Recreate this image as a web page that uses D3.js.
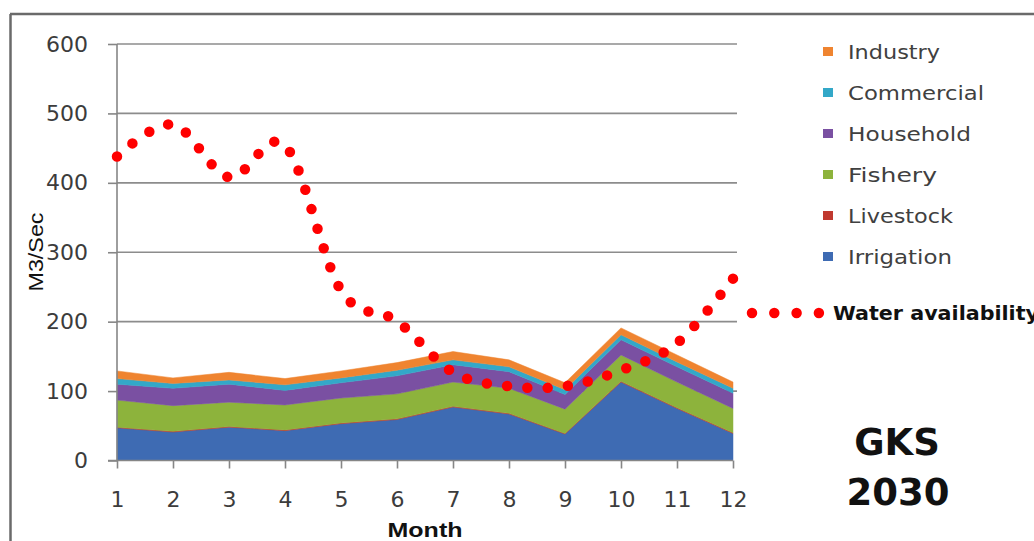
<!DOCTYPE html>
<html>
<head>
<meta charset="utf-8">
<script src="https://cdn.jsdelivr.net/npm/d3@7"></script>
<style>
  html, body { margin: 0; padding: 0; background: #fff; }
  svg { display: block; }
</style>
</head>
<body>
<svg id="chart" width="1034" height="541"></svg>
<script>
// Monthly water demand by sector (m3/sec), stacked, plus water availability
const months = [1, 2, 3, 4, 5, 6, 7, 8, 9, 10, 11, 12];
const irrigation = [47, 41, 48, 43, 53, 59, 77, 67, 38, 113, 75, 39];
const livestock  = [1, 1, 1, 1, 1, 1, 1, 1, 1, 1, 1, 1];
const fishery    = [39, 37, 35, 36, 36, 36, 35, 36, 35, 38, 37, 35];
const household  = [23, 25, 26, 21, 22, 26, 25, 24, 21, 22, 22, 22];
const commercial = [8, 7, 6, 8, 7, 8, 7, 7, 7, 7, 7, 7];
const industry   = [11, 8, 11, 9, 10, 11, 12, 10, 10, 10, 10, 9];
const waterAvailability = [438, 484, 408, 454, 245, 201, 127, 107, 107, 130, 169, 262];
const yTicks = [0, 100, 200, 300, 400, 500, 600];

const seriesNames = ["Irrigation", "Livestock", "Fishery", "Household", "Commercial", "Industry"];
const seriesValues = [irrigation, livestock, fishery, household, commercial, industry];
const colors = {
  Irrigation: "#3e6bb3",
  Livestock: "#c0392f",
  Fishery: "#8db33c",
  Household: "#7a50a2",
  Commercial: "#33a8c8",
  Industry: "#ef8430"
};

const rows = months.map((m, i) => {
  const r = { month: m };
  seriesNames.forEach((s, k) => { r[s] = seriesValues[k][i]; });
  return r;
});

const svg = d3.select("#chart");

// outer frame
svg.append("line").attr("x1", 10).attr("x2", 1034).attr("y1", 14).attr("y2", 14)
  .attr("stroke", "#6a6a6a").attr("stroke-width", 2.5);
svg.append("line").attr("x1", 10.5).attr("x2", 10.5).attr("y1", 14).attr("y2", 541)
  .attr("stroke", "#6a6a6a").attr("stroke-width", 2.5);

const x = d3.scalePoint().domain(months).range([117, 733]);
const y = d3.scaleLinear().domain([0, 600]).range([460.5, 44]);

// horizontal gridlines
svg.append("g").selectAll("line")
  .data(yTicks.filter(v => v > 0))
  .join("line")
  .attr("x1", 117).attr("x2", 737)
  .attr("y1", d => y(d)).attr("y2", d => y(d))
  .attr("stroke", "#8c8c8c").attr("stroke-width", 1.6);

// stacked areas
const stack = d3.stack().keys(seriesNames);
const layers = stack(rows);
const area = d3.area()
  .x(d => x(d.data.month))
  .y0(d => y(d[0]))
  .y1(d => y(d[1]));

svg.append("g").selectAll("path")
  .data(layers)
  .join("path")
  .attr("d", area)
  .attr("fill", d => colors[d.key])
  .attr("stroke", d => colors[d.key])
  .attr("stroke-width", 0.5);

// axes
const yAxis = svg.append("g")
  .attr("transform", "translate(117,0)")
  .call(d3.axisLeft(y).tickValues(yTicks).tickSize(9).tickPadding(20));
yAxis.select(".domain").attr("stroke", "#868686").attr("stroke-width", 1.6)
  .attr("d", `M0,${y(600)}V${y(0)}`);
yAxis.selectAll(".tick line").attr("stroke", "#868686").attr("stroke-width", 1.6);
yAxis.selectAll(".tick text")
  .attr("fill", "#3c3c3c")
  .style("font-family", "'DejaVu Sans', sans-serif")
  .style("font-size", "22px");

const xAxis = svg.append("g")
  .attr("transform", `translate(0,${y(0)})`)
  .call(d3.axisBottom(x).tickSize(8).tickPadding(23));
xAxis.select(".domain").attr("stroke", "#868686").attr("stroke-width", 1.6)
  .attr("d", `M108,0H733`);
xAxis.selectAll(".tick line").attr("stroke", "#868686").attr("stroke-width", 1.6);
xAxis.selectAll(".tick text")
  .attr("fill", "#3c3c3c")
  .style("font-family", "'DejaVu Sans', sans-serif")
  .style("font-size", "22px");

// water availability (smoothed, round dotted)
const line = d3.line()
  .x((d, i) => x(months[i]))
  .y(d => y(d))
  .curve(d3.curveCatmullRom.alpha(0));

const waterPath = svg.append("path")
  .datum(waterAvailability)
  .attr("d", line)
  .attr("fill", "none")
  .attr("stroke", "#ff0000")
  .attr("stroke-width", 10.5)
  .attr("stroke-linecap", "round");
// spread the dots evenly so one lands on each end of the line
const pathLen = waterPath.node().getTotalLength();
const nGaps = Math.round(pathLen / 20.5);
const gap = (pathLen - 0.5) / nGaps;
waterPath.attr("stroke-dasharray", `0 ${gap}`);

// axis titles
svg.append("text")
  .attr("transform", "translate(43,252) rotate(-90)")
  .attr("text-anchor", "middle")
  .attr("textLength", 79).attr("lengthAdjust", "spacingAndGlyphs")
  .style("font-family", "'Liberation Sans', Arial, sans-serif")
  .style("font-size", "20px")
  .attr("fill", "#111")
  .text("M3/Sec");

svg.append("text")
  .attr("x", 425).attr("y", 537)
  .attr("text-anchor", "middle")
  .attr("textLength", 75).attr("lengthAdjust", "spacingAndGlyphs")
  .style("font-family", "'Liberation Sans', Arial, sans-serif")
  .style("font-weight", "bold")
  .style("font-size", "20px")
  .attr("fill", "#111")
  .text("Month");

// legend for the stacked sectors (top entry first)
const legendOrder = ["Industry", "Commercial", "Household", "Fishery", "Livestock", "Irrigation"];
const legendWidths = { Industry: 92, Commercial: 136, Household: 123, Fishery: 89, Livestock: 105, Irrigation: 104 };
const legend = svg.append("g");
const lg = legend.selectAll("g")
  .data(legendOrder)
  .join("g")
  .attr("transform", (d, i) => `translate(0,${51.5 + i * 41})`);
lg.append("rect")
  .attr("x", 823).attr("y", -4.5).attr("width", 10).attr("height", 9)
  .attr("fill", d => colors[d]);
lg.append("text")
  .attr("x", 848).attr("y", 7)
  .attr("textLength", d => legendWidths[d]).attr("lengthAdjust", "spacingAndGlyphs")
  .style("font-family", "'DejaVu Sans', sans-serif")
  .style("font-size", "19px")
  .attr("fill", "#404040")
  .text(d => d);

// legend for water availability
svg.append("line")
  .attr("x1", 752).attr("x2", 822).attr("y1", 313).attr("y2", 313)
  .attr("stroke", "#ff0000")
  .attr("stroke-width", 10.5)
  .attr("stroke-linecap", "round")
  .attr("stroke-dasharray", "0 22.3");
svg.append("text")
  .attr("x", 833).attr("y", 320)
  .attr("textLength", 206).attr("lengthAdjust", "spacingAndGlyphs")
  .style("font-family", "'DejaVu Sans', sans-serif")
  .style("font-weight", "bold")
  .style("font-size", "19px")
  .attr("fill", "#111")
  .text("Water availability");

// scenario label
svg.append("text")
  .attr("x", 897).attr("y", 455)
  .attr("text-anchor", "middle")
  .style("font-family", "'DejaVu Sans', sans-serif")
  .style("font-weight", "bold")
  .style("font-size", "37px")
  .attr("fill", "#111")
  .text("GKS");
svg.append("text")
  .attr("x", 898).attr("y", 505)
  .attr("text-anchor", "middle")
  .style("font-family", "'DejaVu Sans', sans-serif")
  .style("font-weight", "bold")
  .style("font-size", "37px")
  .attr("fill", "#111")
  .text("2030");
</script>
</body>
</html>
